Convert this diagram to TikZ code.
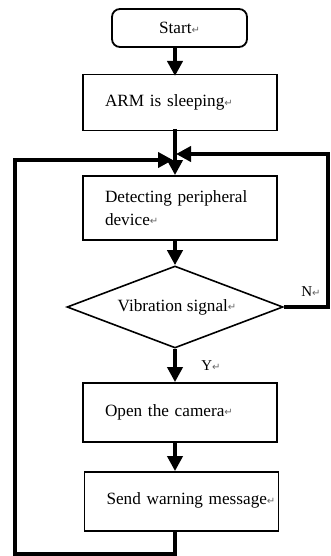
\documentclass[tikz,border=0pt]{standalone}
\usepackage{fontspec}
\setmainfont{Liberation Serif}
\newfontfamily\symfont{DejaVu Sans}
\usetikzlibrary{arrows.meta,shapes.geometric}

% Word-style paragraph mark after each label
\newcommand{\parmark}{{\fontsize{10}{10}\selectfont\symfont\color{black!60}\raisebox{0.5pt}{↵}}}

\tikzset{
  every node/.style={font=\fontsize{17.2}{23}\selectfont},
  procbox/.style={draw, line width=1.8pt, minimum width=194, minimum height=56,
                  inner sep=0pt, align=left, text width=172},
  startbox/.style={draw, line width=1.8pt, rounded corners=8pt, minimum width=135,
                   minimum height=38, inner sep=0pt},
  decision/.style={draw, line width=1.6pt, diamond, shape aspect=2.6,
                   minimum width=216, minimum height=82, inner sep=0pt},
  flow/.style={line width=4.5pt, -{Triangle[length=15pt,width=15pt]}},
  wire/.style={line width=4.5pt},
  tag/.style={inner sep=0pt, font=\fontsize{15}{17}\selectfont}
}

\begin{document}
\begin{tikzpicture}[x=1pt,y=-1pt]
\useasboundingbox (0,0) rectangle (330,556);

% process steps
\node[startbox] (start) at (179.5,28) {Start\parmark};
\node[procbox]  (arm)   at (180,102.5) {\hspace*{11pt}ARM is sleeping\parmark};
\node[procbox, minimum height=64] (det) at (180,208) {\hspace*{11pt}Detecting peripheral\\\hspace*{11pt}device\parmark};
\node[decision] (vib)   at (175,307) {\raisebox{-4pt}{\hspace*{4pt}Vibration signal\parmark}};
\node[procbox, minimum height=59] (cam)  at (180,412.5) {\raisebox{4pt}{\hspace*{11pt}Open the camera\parmark}};
\node[procbox, minimum height=59] (send) at (181.5,501.5) {\raisebox{5pt}{\hspace*{11pt}Send warning message\parmark}};

% junction above the detection step
\coordinate (jl) at (173,160);
\coordinate (jr) at (176,154);

% main flow
\draw[flow] (175,47) -- (175,76);
\draw[wire] (175,129) -- (175,160);
\draw[flow] (175,150) -- (det.north -| 175,0);
\draw[flow] (det.south -| 175,0) -- (vib.north);
\draw[flow] (vib.south) -- (cam.north -| 175,0);
\draw[flow] (cam.south -| 175,0) -- (send.north -| 175,0);

% loop back after the warning
\draw[wire, line join=miter] (send.south -| 175,0) -- (175,554) -- (15,554) -- (15,160) -- (160,160);
\draw[flow] (150,160) -- (jl);

% "no" branch back to detection
\draw[wire, line join=miter] (vib.east) -- (328,307) -- (328,154) -- (190,154);
\draw[flow] (200,154) -- (jr);

% branch labels
\node[tag] at (311,292) {N\parmark};
\node[tag] at (211,366) {Y\parmark};
\end{tikzpicture}
\end{document}
